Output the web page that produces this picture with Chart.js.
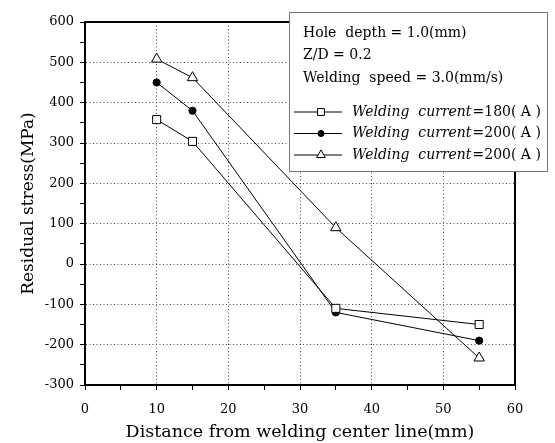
<!DOCTYPE html>
<html>
<head>
<meta charset="utf-8">
<script src="https://cdn.jsdelivr.net/npm/chart.js@4.4.1/dist/chart.umd.min.js"></script>
<style>
  html, body { margin: 0; padding: 0; background: #fff; }
  #wrap { width: 555px; height: 443px; position: relative; }
</style>
</head>
<body>
<div id="wrap"><canvas id="stressChart"></canvas></div>
<script>
// distance from welding centre line (mm)
const xVals = [10, 15, 35, 55];
// residual stress (MPa)
const current180 = [358, 304, -110, -150];
const current200 = [450, 380, -120, -190];
const current200b = [508, 462, 90, -233];

const seriesNames = ['Welding  current', 'Welding  current', 'Welding  current'];
const seriesValues = ['=180( A )', '=200( A )', '=200( A )'];
const infoLines = ['Hole  depth = 1.0(mm)', 'Z/D = 0.2', 'Welding  speed = 3.0(mm/s)'];

const xMin = 0, xMax = 60, xMajor = 10, xMinor = 5;
const yMin = -300, yMax = 600, yMajor = 100, yMinor = 50;

const SERIF = '"DejaVu Serif", "Liberation Serif", serif';

const toPoints = ys => xVals.map((x, i) => ({ x, y: ys[i] }));

const baseSet = {
  showLine: true,
  borderColor: '#000',
  borderWidth: 1,
  pointBorderColor: '#000',
  pointBorderWidth: 1,
  tension: 0
};

// frame round the plot area
const framePlugin = {
  id: 'frame',
  afterDatasetsDraw(chart) {
    const { ctx, chartArea: a } = chart;
    ctx.save();
    ctx.strokeStyle = '#000';
    ctx.lineWidth = 2;
    ctx.strokeRect(a.left, a.top, a.right - a.left, a.bottom - a.top);
    ctx.restore();
  }
};

// boxed legend with the test conditions on top
const boxLegend = {
  id: 'boxLegend',
  afterDraw(chart) {
    const ctx = chart.ctx;
    const bx = 289, by = 12, bw = 258, bh = 159;
    ctx.save();
    ctx.fillStyle = '#fff';
    ctx.fillRect(bx, by, bw, bh);
    ctx.strokeStyle = '#777';
    ctx.lineWidth = 1;
    ctx.strokeRect(bx + 0.5, by + 0.5, bw, bh);

    ctx.fillStyle = '#000';
    ctx.textBaseline = 'middle';
    ctx.font = '14px ' + SERIF;
    infoLines.forEach((t, i) => ctx.fillText(t, 303, 33 + i * 22.5));

    const rows = [112, 133.5, 155];
    chart.data.datasets.forEach((ds, i) => {
      const y = rows[i];
      ctx.strokeStyle = '#000';
      ctx.lineWidth = 1;
      ctx.beginPath();
      ctx.moveTo(294, y);
      ctx.lineTo(342, y);
      ctx.stroke();
      ctx.fillStyle = ds.pointBackgroundColor;
      Chart.helpers.drawPoint(ctx, {
        pointStyle: ds.pointStyle,
        radius: ds.pointRadius * 0.85,
        borderWidth: 1,
        rotation: 0
      }, 321, y);
      ctx.fillStyle = '#000';
      ctx.font = 'italic 14px ' + SERIF;
      ctx.fillText(seriesNames[i], 352, y);
      const w = ctx.measureText(seriesNames[i]).width;
      ctx.font = '14px ' + SERIF;
      ctx.fillText(seriesValues[i], 352 + w + 1, y);
    });
    ctx.restore();
  }
};

new Chart(document.getElementById('stressChart'), {
  type: 'scatter',
  data: {
    datasets: [
      { ...baseSet, label: seriesNames[0] + seriesValues[0], data: toPoints(current180),
        pointStyle: 'rect', pointRadius: 5.7, pointBackgroundColor: '#fff' },
      { ...baseSet, label: seriesNames[1] + seriesValues[1], data: toPoints(current200),
        pointStyle: 'circle', pointRadius: 3.6, pointBackgroundColor: '#000' },
      { ...baseSet, label: seriesNames[2] + seriesValues[2], data: toPoints(current200b),
        pointStyle: 'triangle', pointRadius: 6, pointBackgroundColor: '#fff' }
    ]
  },
  options: {
    responsive: true,
    maintainAspectRatio: false,
    animation: false,
    layout: { padding: { left: 0, right: 40, top: 22, bottom: 0 } },
    plugins: { legend: { display: false }, tooltip: { enabled: false } },
    scales: {
      x: {
        type: 'linear', min: xMin, max: xMax,
        afterFit(s) { s.height = 58; },
        ticks: {
          stepSize: xMinor, autoSkip: false, maxRotation: 0, padding: 12,
          color: '#000', font: { family: SERIF, size: 13 },
          callback: v => (v % xMajor === 0 ? v : '')
        },
        grid: {
          color: c => (c.tick && c.tick.value % xMajor === 0 && c.tick.value !== xMin && c.tick.value !== xMax) ? '#444' : 'rgba(0,0,0,0)',
          tickColor: '#000', tickLength: 5, lineWidth: 1
        },
        border: { color: '#000', width: 2, dash: [1, 2.5] },
        title: {
          display: true, text: 'Distance from welding center line(mm)', color: '#000',
          font: { family: SERIF, size: 17.5 }, padding: { top: 0, bottom: 0 }
        }
      },
      y: {
        min: yMin, max: yMax,
        afterFit(s) { s.width = 85; },
        ticks: {
          stepSize: yMinor, autoSkip: false, padding: 6,
          color: '#000', font: { family: SERIF, size: 13 },
          callback: v => (v % yMajor === 0 ? v : '')
        },
        grid: {
          color: c => (c.tick && c.tick.value % yMajor === 0 && c.tick.value !== yMin && c.tick.value !== yMax) ? '#444' : 'rgba(0,0,0,0)',
          tickColor: '#000', tickLength: 5, lineWidth: 1
        },
        border: { color: '#000', width: 2, dash: [1, 2.5] },
        title: {
          display: true, text: 'Residual stress(MPa)', color: '#000',
          font: { family: SERIF, size: 17 }, padding: { top: 18, bottom: 0 }
        }
      }
    }
  },
  plugins: [framePlugin, boxLegend]
});
</script>
</body>
</html>
